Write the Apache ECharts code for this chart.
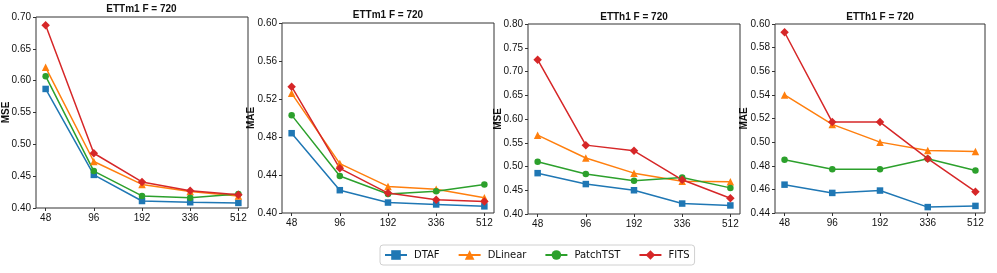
<!DOCTYPE html>
<html>
<head>
<meta charset="utf-8">
<script src="https://cdn.jsdelivr.net/npm/echarts@6/dist/echarts.min.js"></script>
<style>html,body{margin:0;padding:0;background:#fff}#c{width:997px;height:273px}</style>
</head>
<body>
<div id="c"></div>
<script>
const categories = ['48', '96', '192', '336', '512'];
const methods = ['DTAF', 'DLinear', 'PatchTST', 'FITS'];
const panelTitles = ['ETTm1 F = 720', 'ETTm1 F = 720', 'ETTh1 F = 720', 'ETTh1 F = 720'];
const panelMetrics = ['MSE', 'MAE', 'MSE', 'MAE'];

// Panel 1: ETTm1 MSE
const p1_DTAF = [0.587, 0.452, 0.411, 0.409, 0.408];
const p1_DLinear = [0.621, 0.473, 0.437, 0.426, 0.419];
const p1_PatchTST = [0.607, 0.458, 0.419, 0.416, 0.422];
const p1_FITS = [0.687, 0.486, 0.441, 0.427, 0.421];
// Panel 2: ETTm1 MAE
const p2_DTAF = [0.484, 0.424, 0.411, 0.409, 0.407];
const p2_DLinear = [0.526, 0.452, 0.428, 0.425, 0.416];
const p2_PatchTST = [0.503, 0.439, 0.420, 0.423, 0.430];
const p2_FITS = [0.533, 0.447, 0.421, 0.414, 0.412];
// Panel 3: ETTh1 MSE
const p3_DTAF = [0.486, 0.463, 0.450, 0.422, 0.418];
const p3_DLinear = [0.566, 0.518, 0.486, 0.469, 0.468];
const p3_PatchTST = [0.510, 0.484, 0.470, 0.477, 0.455];
const p3_FITS = [0.725, 0.545, 0.533, 0.472, 0.433];
// Panel 4: ETTh1 MAE
const p4_DTAF = [0.464, 0.457, 0.459, 0.445, 0.446];
const p4_DLinear = [0.540, 0.515, 0.500, 0.493, 0.492];
const p4_PatchTST = [0.485, 0.477, 0.477, 0.486, 0.476];
const p4_FITS = [0.593, 0.517, 0.517, 0.486, 0.458];

const yMin = [0.40, 0.40, 0.40, 0.44];
const yMax = [0.70, 0.60, 0.80, 0.60];
const yStep = [0.05, 0.04, 0.05, 0.02];

const panelData = [
  [p1_DTAF, p1_DLinear, p1_PatchTST, p1_FITS],
  [p2_DTAF, p2_DLinear, p2_PatchTST, p2_FITS],
  [p3_DTAF, p3_DLinear, p3_PatchTST, p3_FITS],
  [p4_DTAF, p4_DLinear, p4_PatchTST, p4_FITS]
];

const colors = ['#1f77b4', '#ff7f0e', '#2ca02c', '#d62728'];
const symbols = ['rect', 'triangle', 'circle', 'diamond'];
const symbolSizes = [6.5, 7.5, 6.5, 8.5];

const grids = [
  {left: 35, top: 17, width: 213, height: 191},
  {left: 282, top: 23, width: 212, height: 190},
  {left: 528, top: 24, width: 212, height: 190},
  {left: 775, top: 24, width: 210, height: 189}
];
const titleTops = [4, 10, 12, 12];
const nameGaps = [25, 26, 25, 26];

const FONT = 'Liberation Sans';
const idx = categories.map((c, i) => i);

const option = {
  animation: false,
  backgroundColor: '#fff',
  title: grids.map((g, i) => ({
    text: panelTitles[i],
    left: g.left + g.width / 2,
    top: titleTops[i],
    padding: 0,
    textAlign: 'center',
    textStyle: {fontFamily: FONT, fontSize: 10, fontWeight: 'bold', color: '#111'}
  })),
  legend: {
    data: methods,
    left: 380,
    top: 245,
    orient: 'horizontal',
    itemWidth: 22,
    itemHeight: 12,
    itemGap: 18,
    padding: [5, 5, 5, 4],
    borderColor: '#d0d0d0',
    borderWidth: 1,
    borderRadius: 3,
    textStyle: {fontFamily: 'DejaVu Sans', fontSize: 10, color: '#111', padding: [0, 0, 0, 2]}
  },
  grid: grids.map(g => Object.assign({show: true, borderColor: '#333', borderWidth: 1, backgroundColor: 'transparent'}, g)),
  xAxis: grids.map((g, i) => ({
    type: 'value',
    gridIndex: i,
    min: -0.2,
    max: 4.2,
    axisLine: {show: false, onZero: false},
    splitLine: {show: false},
    axisTick: {show: true, length: 3, customValues: idx, lineStyle: {color: '#333'}},
    axisLabel: {
      customValues: idx,
      margin: 5,
      fontFamily: FONT, fontSize: 10, color: '#111',
      formatter: v => categories[Math.round(v)]
    }
  })),
  yAxis: grids.map((g, i) => ({
    type: 'value',
    gridIndex: i,
    min: yMin[i],
    max: yMax[i],
    interval: yStep[i],
    name: panelMetrics[i],
    nameLocation: 'middle',
    nameGap: nameGaps[i],
    nameMoveOverlap: false,
    nameTextStyle: {fontFamily: FONT, fontSize: 10, fontWeight: 'bold', color: '#111'},
    axisLine: {show: false, onZero: false},
    splitLine: {show: false},
    axisTick: {show: true, length: 3, lineStyle: {color: '#333'}},
    axisLabel: {
      margin: 5,
      fontFamily: FONT, fontSize: 10, color: '#111',
      formatter: v => v.toFixed(2)
    }
  })),
  series: []
};

panelData.forEach((pd, p) => {
  pd.forEach((vals, m) => {
    option.series.push({
      name: methods[m],
      type: 'line',
      xAxisIndex: p,
      yAxisIndex: p,
      data: vals.map((v, i) => [idx[i], v]),
      symbol: symbols[m],
      symbolSize: symbolSizes[m],
      showAllSymbol: true,
      color: colors[m],
      lineStyle: {width: 1.5, color: colors[m]},
      itemStyle: {color: colors[m]},
      emphasis: {disabled: true}
    });
  });
});

const chart = echarts.init(document.getElementById('c'), null, {renderer: 'canvas'});
chart.setOption(option);
</script>
</body>
</html>
